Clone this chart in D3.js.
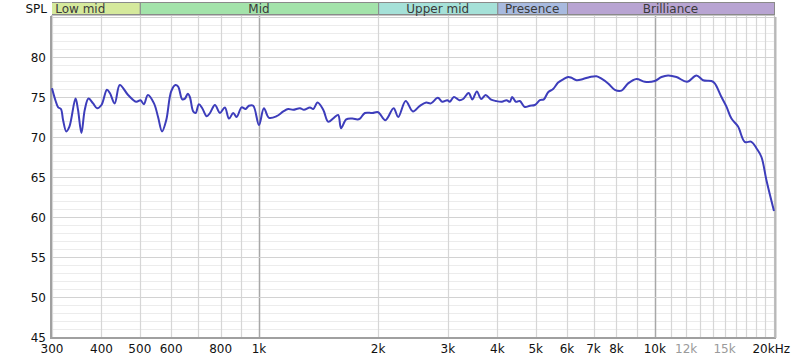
<!DOCTYPE html>
<html>
<head>
<meta charset="utf-8">
<script src="https://cdn.jsdelivr.net/npm/d3@7"></script>
<style>
  body { margin: 0; background: #fff; }
  svg { display: block; font-family: "DejaVu Sans", sans-serif; }
</style>
</head>
<body>
<svg id="canvas" width="800" height="360"></svg>
<script>
// frequency response
const freqs = [300,306,311,316,320,326,332,344,349,356,363,371,381,390,400,413,420,432,445,467,
  490,502,512,524,543,556,569,583,600,615,625,640,650,661,669,682,692,705,719,738,
  752,774,797,820,840,861,878,904,925,943,967,1000,1029,1060,1108,1152,1185,1220,1269,1299,
  1345,1371,1406,1453,1496,1546,1585,1612,1661,1721,1773,1799,1852,1934,2000,2086,2188,2248,2347,
  2448,2550,2645,2718,2830,2906,2991,3035,3107,3207,3279,3385,3460,3551,3641,3737,3848,3966,4107,4220,
  4303,4361,4455,4560,4694,4834,4976,5123,5243,5376,5535,5698,5866,6039,6160,6341,6589,6851,7123,7333,
  7621,7923,8237,8560,8989,9433,9995,10393,10801,11342,12063,12739,13239,13901,14169,14735,15169,15615,16228,16870,
  17540,18056,18591,19139,20000];
const spl = [76.1,74.6,73.7,73.5,72.1,70.7,71.3,74.8,73.4,70.5,73.4,74.8,74.2,73.6,74.0,75.9,75.5,74.2,76.5,75.25,
  74.4,74.6,74.1,75.25,74.2,72.5,70.7,72.1,75.7,76.5,76.3,74.7,74.8,75.4,75.0,73.2,73.0,74.1,73.6,72.6,
  73.0,74.0,73.0,73.7,72.3,73.0,72.5,73.7,73.5,73.9,73.9,71.5,73.6,72.4,72.6,73.2,73.5,73.4,73.6,73.4,
  73.7,73.5,74.3,73.4,71.9,72.4,72.75,71.1,72.2,72.3,72.2,72.3,73.0,73.0,73.1,72.1,73.6,72.5,74.5,
  73.2,73.9,74.3,74.2,74.9,74.4,74.6,74.4,75.0,74.6,74.75,75.5,74.7,75.7,74.75,75.25,74.7,74.5,74.4,74.6,
  74.4,75.0,74.4,74.5,73.75,73.9,74.0,74.6,74.7,75.6,76.0,76.8,77.2,77.5,77.4,77.1,77.25,77.5,77.6,77.3,
  76.7,75.9,75.8,76.7,77.25,76.9,77.0,77.5,77.7,77.5,76.9,77.7,77.1,77.0,76.7,75.0,73.8,72.3,71.3,69.4,
  69.4,68.6,67.5,64.6,60.75];

// frequency bands along the top
const bandNames = ["Low mid", "Mid", "Upper mid", "Presence", "Brilliance"];
const bandStart = [250, 500, 2000, 4000, 6000];
const bandEnd = [500, 2000, 4000, 6000, 20000];
const bandColors = ["#d5e99c", "#a3e3aa", "#a5e1d8", "#a8badf", "#b8a4d2"];

// axis ticks
const xTicks = [300, 400, 500, 600, 800, 1000, 2000, 3000, 4000, 5000, 6000, 7000, 8000, 10000, 12000, 15000, 20000];
const xTickLabels = ["300", "400", "500", "600", "800", "1k", "2k", "3k", "4k", "5k", "6k", "7k", "8k", "10k", "12k", "15k", "20kHz"];
const xGrayLabels = ["12k", "15k"];
const yTicks = [45, 50, 55, 60, 65, 70, 75, 80];

const svg = d3.select("#canvas");

const plotLeft = 52, plotRight = 774, plotTop = 17, plotBottom = 337;

const x = d3.scaleLog().domain([300, 20000]).range([plotLeft, plotRight]);
const y = d3.scaleLinear().domain([45, 85]).range([plotBottom, plotTop]);

// vertical grid: every 100 Hz below 1k, every 1k above
const vGrid = d3.range(300, 1000, 100)
  .concat(d3.range(1000, 10000, 1000))
  .concat(d3.range(10000, 20001, 1000));

const grid = svg.append("g");

grid.selectAll(".hminor")
  .data(d3.range(45, 86, 1).filter((d) => d % 5 !== 0))
  .enter()
  .append("line")
  .attr("x1", plotLeft).attr("x2", plotRight)
  .attr("y1", (d) => y(d) + 0.5).attr("y2", (d) => y(d) + 0.5)
  .attr("stroke", "#ececec");

grid.selectAll(".vline")
  .data(vGrid)
  .enter()
  .append("line")
  .attr("x1", (d) => Math.round(x(d)) + 0.5).attr("x2", (d) => Math.round(x(d)) + 0.5)
  .attr("y1", plotTop - 1).attr("y2", plotBottom)
  .attr("stroke", (d) => (d === 1000 || d === 10000 ? "#a8a8a8" : "#d6d6d6"))
  .attr("stroke-width", (d) => (d === 1000 || d === 10000 ? 1.5 : 1.2));

grid.selectAll(".hmajor")
  .data(d3.range(50, 86, 5))
  .enter()
  .append("line")
  .attr("x1", plotLeft).attr("x2", plotRight)
  .attr("y1", (d) => y(d) + 0.5).attr("y2", (d) => y(d) + 0.5)
  .attr("stroke", "#d2d2d2")
  .attr("stroke-width", 1.2);

// frame
svg.append("rect")
  .attr("x", plotLeft - 0.5).attr("y", plotTop - 1.5)
  .attr("width", plotRight - plotLeft + 1).attr("height", plotBottom - plotTop + 2)
  .attr("fill", "none").attr("stroke", "#c4c4c4");
svg.append("line")
  .attr("x1", plotLeft - 1).attr("x2", plotLeft - 1).attr("y1", plotTop - 1).attr("y2", plotBottom + 1)
  .attr("stroke", "#a0a0a0").attr("stroke-width", 2);
svg.append("line")
  .attr("x1", plotLeft - 2).attr("x2", plotRight + 2).attr("y1", plotBottom + 1).attr("y2", plotBottom + 1)
  .attr("stroke", "#a0a0a0").attr("stroke-width", 2);
svg.append("line")
  .attr("x1", plotRight + 1.5).attr("x2", plotRight + 1.5).attr("y1", plotTop).attr("y2", plotBottom + 1)
  .attr("stroke", "#b8b8b8").attr("stroke-width", 2);

// bands
svg.append("clipPath").attr("id", "bandclip")
  .append("rect").attr("x", plotLeft).attr("y", 0).attr("width", plotRight - plotLeft + 1).attr("height", 20);

const bands = svg.append("g").attr("clip-path", "url(#bandclip)")
  .selectAll("g")
  .data(bandNames.map((name, i) => ({ name, f0: bandStart[i], f1: bandEnd[i], color: bandColors[i] })))
  .enter()
  .append("g");

bands.append("rect")
  .attr("x", (d) => x(d.f0) + 0.5)
  .attr("y", 2.5)
  .attr("width", (d) => x(d.f1) - x(d.f0))
  .attr("height", 12)
  .attr("fill", (d) => d.color)
  .attr("stroke", "#8a8a8a")
  .attr("stroke-width", 1);

bands.append("text")
  .text((d) => d.name)
  .attr("x", (d) => (x(d.f0) + x(d.f1)) / 2)
  .attr("y", 12.5)
  .attr("text-anchor", "middle")
  .attr("font-size", 12)
  .attr("fill", "#3a3a3a");

svg.append("text")
  .text("SPL")
  .attr("x", 47).attr("y", 12.5)
  .attr("text-anchor", "end")
  .attr("font-size", 12)
  .attr("fill", "#111");

// y labels
svg.selectAll(".ylab")
  .data(yTicks)
  .enter()
  .append("text")
  .text((d) => d)
  .attr("x", 46)
  .attr("y", (d) => y(d) + 4.5)
  .attr("text-anchor", "end")
  .attr("font-size", 12)
  .attr("fill", "#111");

// x labels
svg.selectAll(".xlab")
  .data(xTicks)
  .enter()
  .append("text")
  .text((d, i) => xTickLabels[i])
  .attr("x", (d) => (d === 20000 ? x(d) + 16 : x(d)))
  .attr("y", 353)
  .attr("text-anchor", (d) => (d === 20000 ? "end" : "middle"))
  .attr("font-size", 12)
  .attr("fill", (d, i) => (xGrayLabels.includes(xTickLabels[i]) ? "#9a9a9a" : "#111"));

// response curve
const points = d3.zip(freqs, spl);
const line = d3.line()
  .x((d) => x(d[0]))
  .y((d) => y(d[1]))
  .curve(d3.curveCatmullRom.alpha(0.5));

svg.append("path")
  .datum(points)
  .attr("d", line)
  .attr("fill", "none")
  .attr("stroke", "#3d3dbb")
  .attr("stroke-width", 2)
  .attr("stroke-linejoin", "round");
</script>
</body>
</html>
